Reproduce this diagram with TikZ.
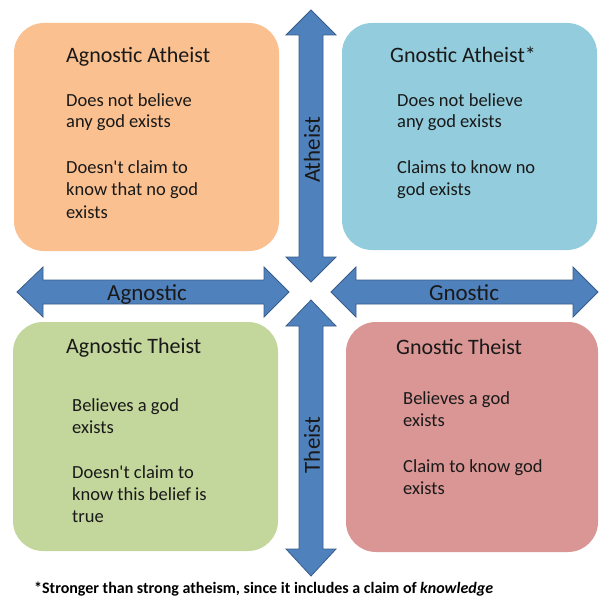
\documentclass[tikz,border=0pt]{standalone}
\usepackage{fontspec}
\setmainfont{Carlito}
\definecolor{cOrange}{HTML}{FAC08F}
\definecolor{cBlue}{HTML}{93CDDD}
\definecolor{cGreen}{HTML}{C3D69B}
\definecolor{cRed}{HTML}{D99694}
\definecolor{arrFill}{HTML}{4F81BD}
\definecolor{arrLine}{HTML}{385D8A}
\newcommand{\apo}{\textquotesingle}
\begin{document}
\begin{tikzpicture}[x=1pt,y=-1pt,
  quad/.style={rounded corners=30pt, draw=none, inner sep=0pt},
  bigarrow/.style={fill=arrFill, draw=arrLine, line width=0.8pt, line join=miter},
  ttl/.style={font=\fontsize{22}{26}\selectfont, anchor=base west, inner sep=0pt, text=black!90},
  body/.style={font=\fontsize{18.5}{22}\selectfont, anchor=base west, inner sep=0pt, text=black!90},
  axlabel/.style={font=\fontsize{23}{26}\selectfont, inner sep=0pt, text=black!90}]
\useasboundingbox (0,0) rectangle (599,596);

% quadrant boxes
\node[quad, fill=cOrange, minimum width=265pt, minimum height=228pt] (aa) at (146.5,137) {};
\node[quad, fill=cBlue,   minimum width=255pt, minimum height=227pt] (ga) at (469.5,136.5) {};
\node[quad, fill=cGreen,  minimum width=265pt, minimum height=229pt] (at) at (145.5,436.5) {};
\node[quad, fill=cRed,    minimum width=252pt, minimum height=230pt] (gt) at (472,437) {};

% arrows
\draw[bigarrow] (311,10) -- (336,35) -- (323,35) -- (323,257) -- (336,257) -- (311,282)
  -- (286,257) -- (299,257) -- (299,35) -- (286,35) -- cycle;
\draw[bigarrow] (311,300) -- (336,326) -- (323,326) -- (323,549) -- (336,549) -- (311,576)
  -- (286,549) -- (299,549) -- (299,326) -- (286,326) -- cycle;
\draw[bigarrow] (17,292) -- (43,267) -- (43,280) -- (264,280) -- (264,267) -- (289,292)
  -- (264,317) -- (264,304) -- (43,304) -- (43,317) -- cycle;
\draw[bigarrow] (331,292) -- (356,267) -- (356,280) -- (573,280) -- (573,267) -- (598,292)
  -- (573,317) -- (573,304) -- (356,304) -- (356,317) -- cycle;

% axis labels
\node[axlabel, anchor=base] (lagn) at (147,300) {Agnostic};
\node[axlabel, anchor=base] (lgn) at (464,300) {Gnostic};
\node[axlabel, rotate=90] (lath) at (312,150) {Atheist};
\node[axlabel, rotate=90] (lth) at (312,445) {Theist};

% Agnostic Atheist
\node[ttl] (aat) at (66,63) {Agnostic Atheist};
\node[body] (aa1) at (66,107) {Does not believe};
\node[body] (aa2) at (66,128) {any god exists};
\node[body] (aa3) at (66,174) {Doesn\apo t claim to};
\node[body] (aa4) at (66,196) {know that no god};
\node[body] (aa5) at (66,218) {exists};

% Gnostic Atheist
\node[ttl] (gat) at (390,63) {Gnostic Atheist*};
\node[body] (ga1) at (397,107) {Does not believe};
\node[body] (ga2) at (397,128) {any god exists};
\node[body] (ga3) at (397,174) {Claims to know no};
\node[body] (ga4) at (397,196) {god exists};

% Agnostic Theist
\node[ttl] (att) at (66,353) {Agnostic Theist};
\node[body] (at1) at (72,411) {Believes a god};
\node[body] (at2) at (72,433) {exists};
\node[body] (at3) at (72,478) {Doesn\apo t claim to};
\node[body] (at4) at (72,500) {know this belief is};
\node[body] (at5) at (72,522) {true};

% Gnostic Theist
\node[ttl] (gtt) at (396,354) {Gnostic Theist};
\node[body] (gt1) at (403,404) {Believes a god};
\node[body] (gt2) at (403,426) {exists};
\node[body] (gt3) at (403,472) {Claim to know god};
\node[body] (gt4) at (403,494) {exists};

% footnote
\node[font=\bfseries\fontsize{16}{18}\selectfont, anchor=base west, inner sep=0pt] (fn) at (34,593)
  {*Stronger than strong atheism, since it includes a claim of \textit{knowledge}};
\end{tikzpicture}
\end{document}
